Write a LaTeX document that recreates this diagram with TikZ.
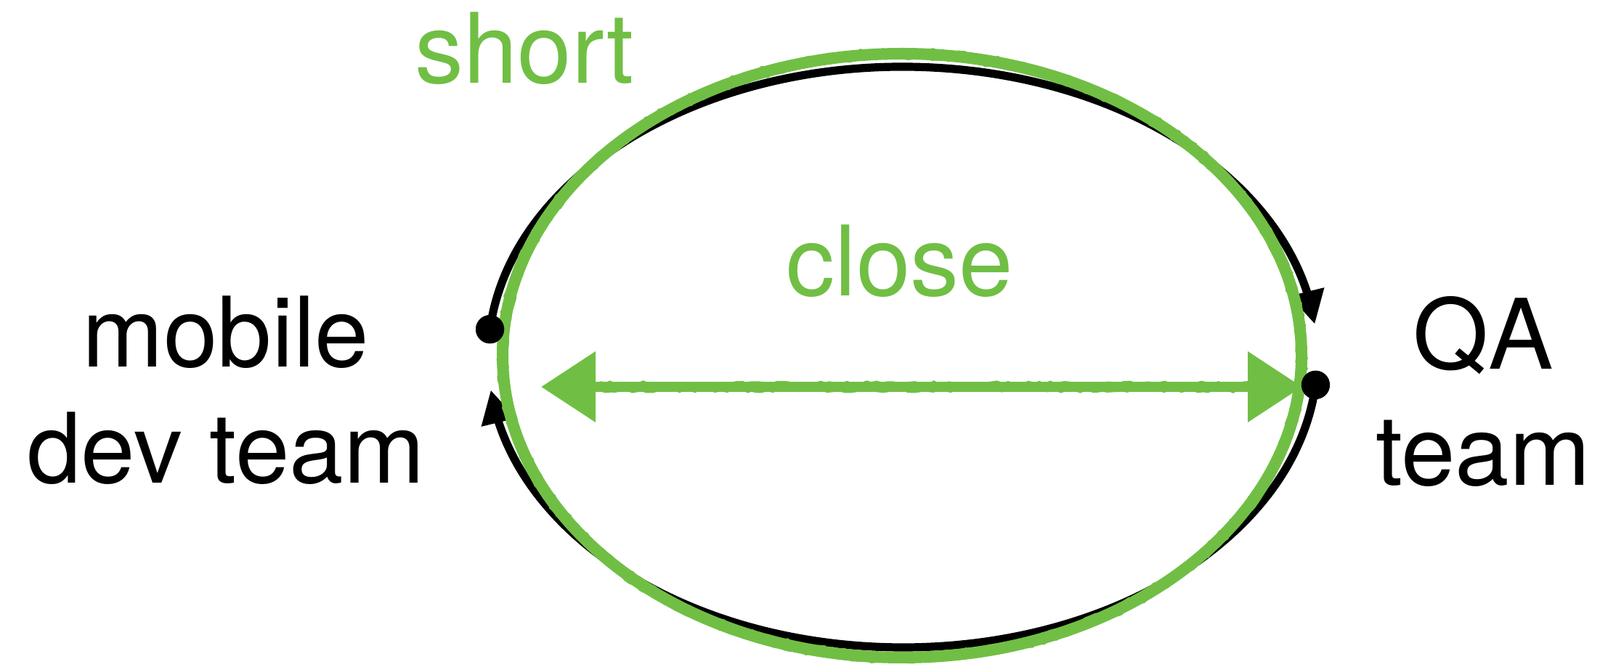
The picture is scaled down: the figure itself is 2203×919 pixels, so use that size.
\documentclass[tikz,border=0pt]{standalone}
\usepackage{fontspec}
\setmainfont{TeX Gyre Heros}
\usetikzlibrary{arrows.meta,bending,calc,decorations.pathmorphing}
\definecolor{chalk}{RGB}{112,191,68}
\tikzset{
  blackarc/.style={line width=2.8pt,black},
  blacktip/.style={-{Triangle[length=11.5pt,width=11.5pt]}},
  dotnode/.style={circle,fill=black,inner sep=0pt,minimum size=9.8pt},
  greenline/.style={line width=4pt,chalk},
  greenrough/.style={line width=1.6pt,chalk,decorate,decoration={random steps,segment length=1.8pt,amplitude=0.55pt}},
  lbl/.style={font=\fontsize{33.5pt}{40pt}\selectfont,inner sep=0pt,align=center},
}
\begin{document}
\begin{tikzpicture}[x=0.25pt,y=0.25pt]
\useasboundingbox (0,0) rectangle (2203,919);
\coordinate (c) at (1243,427);
\coordinate (gc) at (1242,429);
% black loop
\node[dotnode] (ldot) at ($(c)+(174.5:571 and 400)$) {};
\node[dotnode] (rdot) at ($(c)+(-5.5:571 and 400)$) {};
\draw[blackarc,blacktip] (ldot.center) arc[start angle=174.5,end angle=6.5,x radius=142.75pt,y radius=100pt];
\draw[blackarc,blacktip] (rdot.center) arc[start angle=-5.5,end angle=-173.5,x radius=142.75pt,y radius=100pt];
% green chalk loop
\draw[greenline] (gc) ellipse[x radius=137.5pt,y radius=104pt];
\draw[greenrough] (gc) ellipse[x radius=138.4pt,y radius=104.9pt];
\draw[greenrough] (gc) ellipse[x radius=136.6pt,y radius=103.1pt];
% green double arrow
\coordinate (gl) at (745,386);
\coordinate (gr) at (1793,386);
\draw[greenline,line width=3.6pt,{Triangle[length=18.75pt,width=23.5pt]}-{Triangle[length=18.75pt,width=23.5pt]}] (gl) -- (gr);
\draw[greenrough,line width=1.2pt] ($(gl)+(60,4)$) -- ($(gr)+(-60,4)$);
\draw[greenrough,line width=1.2pt] ($(gl)+(60,-4)$) -- ($(gr)+(-60,-4)$);
% dots on top
\node[dotnode] at (ldot) {};
\node[dotnode] at (rdot) {};
% labels
\node[lbl,text=chalk,anchor=base] (short) at (722,804) {short};
\node[lbl,text=chalk,anchor=base] (close) at (1239,511) {close};
\node[lbl] (mobile) at (311,381) {mobile\\dev team};
\node[lbl] (qa) at (2042,380) {QA\\team};
\end{tikzpicture}
\end{document}
